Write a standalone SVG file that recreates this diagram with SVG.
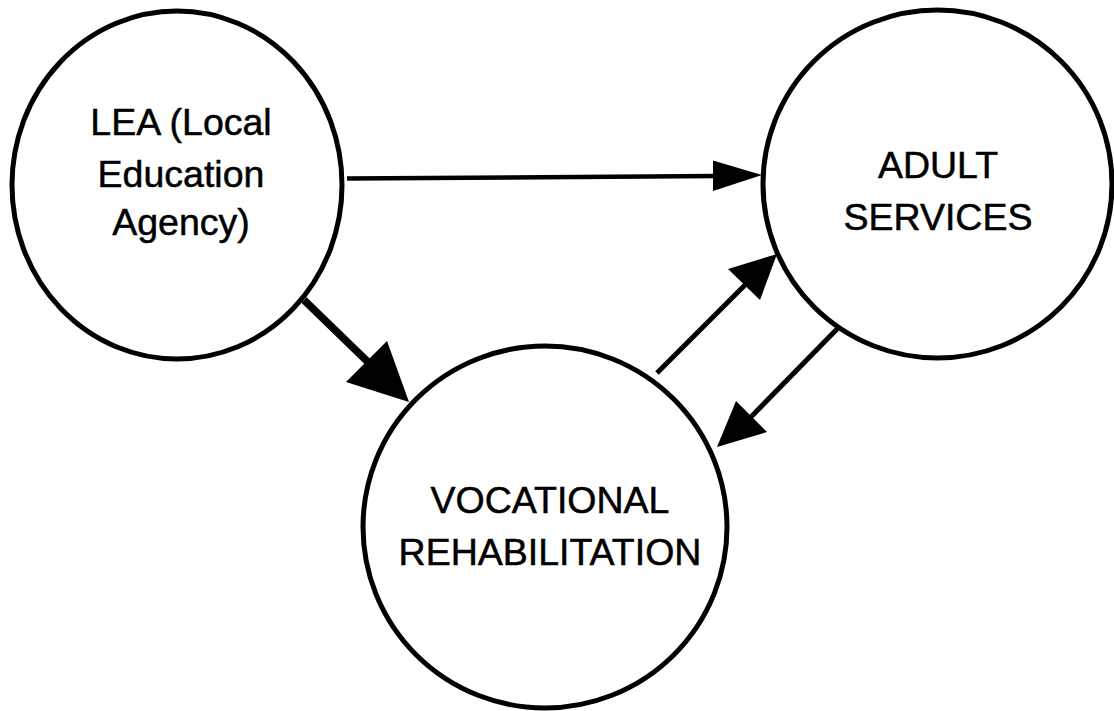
<svg xmlns="http://www.w3.org/2000/svg" width="1114" height="711" viewBox="0 0 1114 711">
  <style>
    .node { fill: #ffffff; stroke: #000000; stroke-width: 5; }
    .label { font-family: "Liberation Sans", Arial, Helvetica, sans-serif; font-size: 37.5px; fill: #000000; stroke: #000000; stroke-width: 0.5; text-anchor: middle; }
    .edge { stroke: #000000; fill: none; stroke-linecap: butt; }
    .head { fill: #000000; stroke: none; }
  </style>
  <rect x="0" y="0" width="1114" height="711" fill="#ffffff"/>

  <!-- connectors -->
  <g id="connectors">
    <!-- LEA to Adult Services -->
    <line class="edge" x1="347" y1="178.5" x2="716" y2="176" stroke-width="4.5"/>
    <polygon class="head" points="762,175 713,160.5 713,191"/>
    <!-- LEA to Vocational Rehabilitation (heavy) -->
    <line class="edge" x1="304" y1="300" x2="370" y2="364" stroke-width="7.5"/>
    <polygon class="head" points="409,402 387,341 346,382"/>
    <!-- Vocational Rehabilitation to Adult Services -->
    <line class="edge" x1="657" y1="373" x2="747" y2="283" stroke-width="5"/>
    <polygon class="head" points="777,254 728,269 760,300"/>
    <!-- Adult Services to Vocational Rehabilitation -->
    <line class="edge" x1="839" y1="327" x2="748" y2="420" stroke-width="5"/>
    <polygon class="head" points="717,447 736,401 767,432"/>
  </g>

  <g id="node-lea">
    <ellipse class="node" cx="177" cy="185" rx="165" ry="174"/>
    <text class="label" x="181" y="135">LEA (Local</text>
    <text class="label" x="181" y="187">Education</text>
    <text class="label" x="181" y="235">Agency)</text>
  </g>

  <g id="node-adult">
    <ellipse class="node" cx="937.5" cy="184" rx="174.5" ry="174"/>
    <text class="label" x="938" y="178">ADULT</text>
    <text class="label" x="938" y="230">SERVICES</text>
  </g>

  <g id="node-voc">
    <ellipse class="node" cx="545" cy="527" rx="182" ry="181"/>
    <text class="label" x="550" y="513">VOCATIONAL</text>
    <text class="label" x="550" y="565">REHABILITATION</text>
  </g>
</svg>
